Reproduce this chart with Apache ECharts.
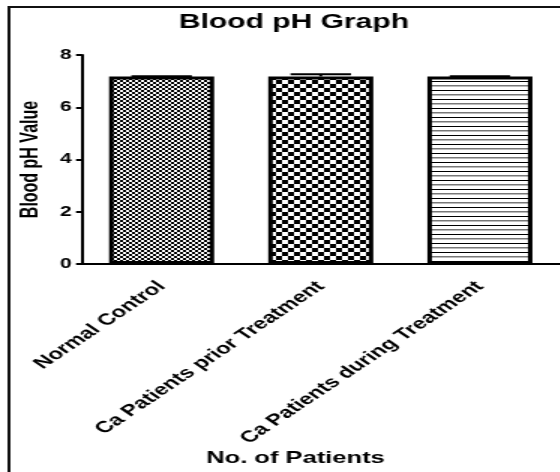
<!DOCTYPE html>
<html>
<head>
<meta charset="utf-8">
<script src="https://cdn.jsdelivr.net/npm/echarts@6/dist/echarts.min.js"></script>
<style>
  html, body { margin: 0; padding: 0; background: #fff; overflow: hidden; }
  /* the reference is a horizontally stretched export, so draw narrow and stretch */
  #main { width: 373.33px; height: 472px; transform: scaleX(1.5); transform-origin: 0 0; }
</style>
</head>
<body>
<div id="main"></div>
<script>
const categories = ['Normal Control', 'Ca Patients prior Treatment', 'Ca Patients during Treatment']
const phValues = [7.18, 7.18, 7.18]
const phErrors = [0.01, 0.08, 0.01]
const yMin = 0
const yMax = 8
const yStep = 2

const FONT = '"Liberation Sans", Arial, sans-serif'

function makePattern(w, h, draw) {
  const c = document.createElement('canvas')
  c.width = w
  c.height = h
  const ctx = c.getContext('2d')
  ctx.fillStyle = '#fff'
  ctx.fillRect(0, 0, w, h)
  draw(ctx)
  return c
}

// fine checker, coarse checker, horizontal lines
const patterns = [
  makePattern(4, 4, (ctx) => {
    ctx.fillStyle = '#000'
    ctx.fillRect(0, 0, 2, 2)
    ctx.fillRect(2, 2, 2, 2)
  }),
  makePattern(8, 8, (ctx) => {
    ctx.fillStyle = '#000'
    ctx.fillRect(0, 0, 4, 4)
    ctx.fillRect(4, 4, 4, 4)
  }),
  makePattern(4, 9, (ctx) => {
    ctx.fillStyle = '#000'
    ctx.fillRect(0, 0, 4, 1)
    ctx.fillStyle = '#777'
    ctx.fillRect(0, 4, 4, 1)
    ctx.fillStyle = '#bbb'
    ctx.fillRect(0, 5, 4, 1)
  }),
]

var myChart = echarts.init(document.getElementById('main'))
var option = {
  animation: false,
  backgroundColor: '#fff',
  grid: {
    left: 54.7,
    right: 0,
    top: 55,
    bottom: 208,
  },
  graphic: [
    {
      type: 'rect',
      z: -10,
      shape: { x: 6, y: 7, width: 500, height: 600 },
      style: { fill: 'none', stroke: '#111', lineWidth: 2 },
    },
    {
      type: 'text',
      x: 196,
      y: 22,
      style: {
        text: 'Blood pH Graph',
        font: 'bold 20px ' + FONT,
        fill: '#000',
        align: 'center',
        verticalAlign: 'middle',
        textAlign: 'center',
        textVerticalAlign: 'middle',
      },
    },
    {
      type: 'text',
      x: 197,
      y: 458,
      style: {
        text: 'No. of Patients',
        font: 'bold 17px ' + FONT,
        fill: '#000',
        align: 'center',
        verticalAlign: 'middle',
        textAlign: 'center',
        textVerticalAlign: 'middle',
      },
    },
  ],
  xAxis: {
    type: 'category',
    data: categories,
    axisLine: { lineStyle: { color: '#000', width: 2 } },
    axisTick: { alignWithLabel: true, length: 6, lineStyle: { color: '#000', width: 2 } },
    axisLabel: {
      interval: 0,
      rotate: 45,
      margin: 20,
      color: '#000',
      fontWeight: 'bold',
      fontSize: 16,
      fontFamily: FONT,
    },
    splitLine: { show: false },
  },
  yAxis: {
    type: 'value',
    min: yMin,
    max: yMax,
    interval: yStep,
    name: 'Blood pH Value',
    nameLocation: 'middle',
    nameGap: 25,
    nameTextStyle: { color: '#000', fontWeight: 'bold', fontSize: 16, fontFamily: FONT },
    axisLine: { show: true, lineStyle: { color: '#000', width: 2 } },
    axisTick: { show: true, length: 4, lineStyle: { color: '#000', width: 2 } },
    axisLabel: { color: '#000', fontWeight: 'bold', fontSize: 14, fontFamily: FONT, margin: 7 },
    splitLine: { show: false },
  },
  series: [
    {
      type: 'bar',
      barWidth: '66%',
      data: phValues.map((v, i) => ({
        value: v,
        itemStyle: {
          color: { image: patterns[i], repeat: 'repeat' },
          borderColor: '#000',
          borderWidth: 3,
        },
      })),
    },
    {
      type: 'custom',
      z: 5,
      data: phValues.map((v, i) => [i, v, phErrors[i]]),
      renderItem: function (params, api) {
        var top = api.coord([api.value(0), api.value(1) + api.value(2)])
        var base = api.coord([api.value(0), api.value(1)])
        var half = api.size([1, 0])[0] * 0.19
        return {
          type: 'group',
          children: [
            {
              type: 'line',
              shape: { x1: top[0] - half, y1: top[1], x2: top[0] + half, y2: top[1] },
              style: { stroke: '#000', lineWidth: 2 },
            },
            {
              type: 'line',
              shape: { x1: top[0], y1: top[1], x2: top[0], y2: base[1] },
              style: { stroke: '#000', lineWidth: 2 },
            },
          ],
        }
      },
    },
  ],
}
option && myChart.setOption(option)
</script>
</body>
</html>
